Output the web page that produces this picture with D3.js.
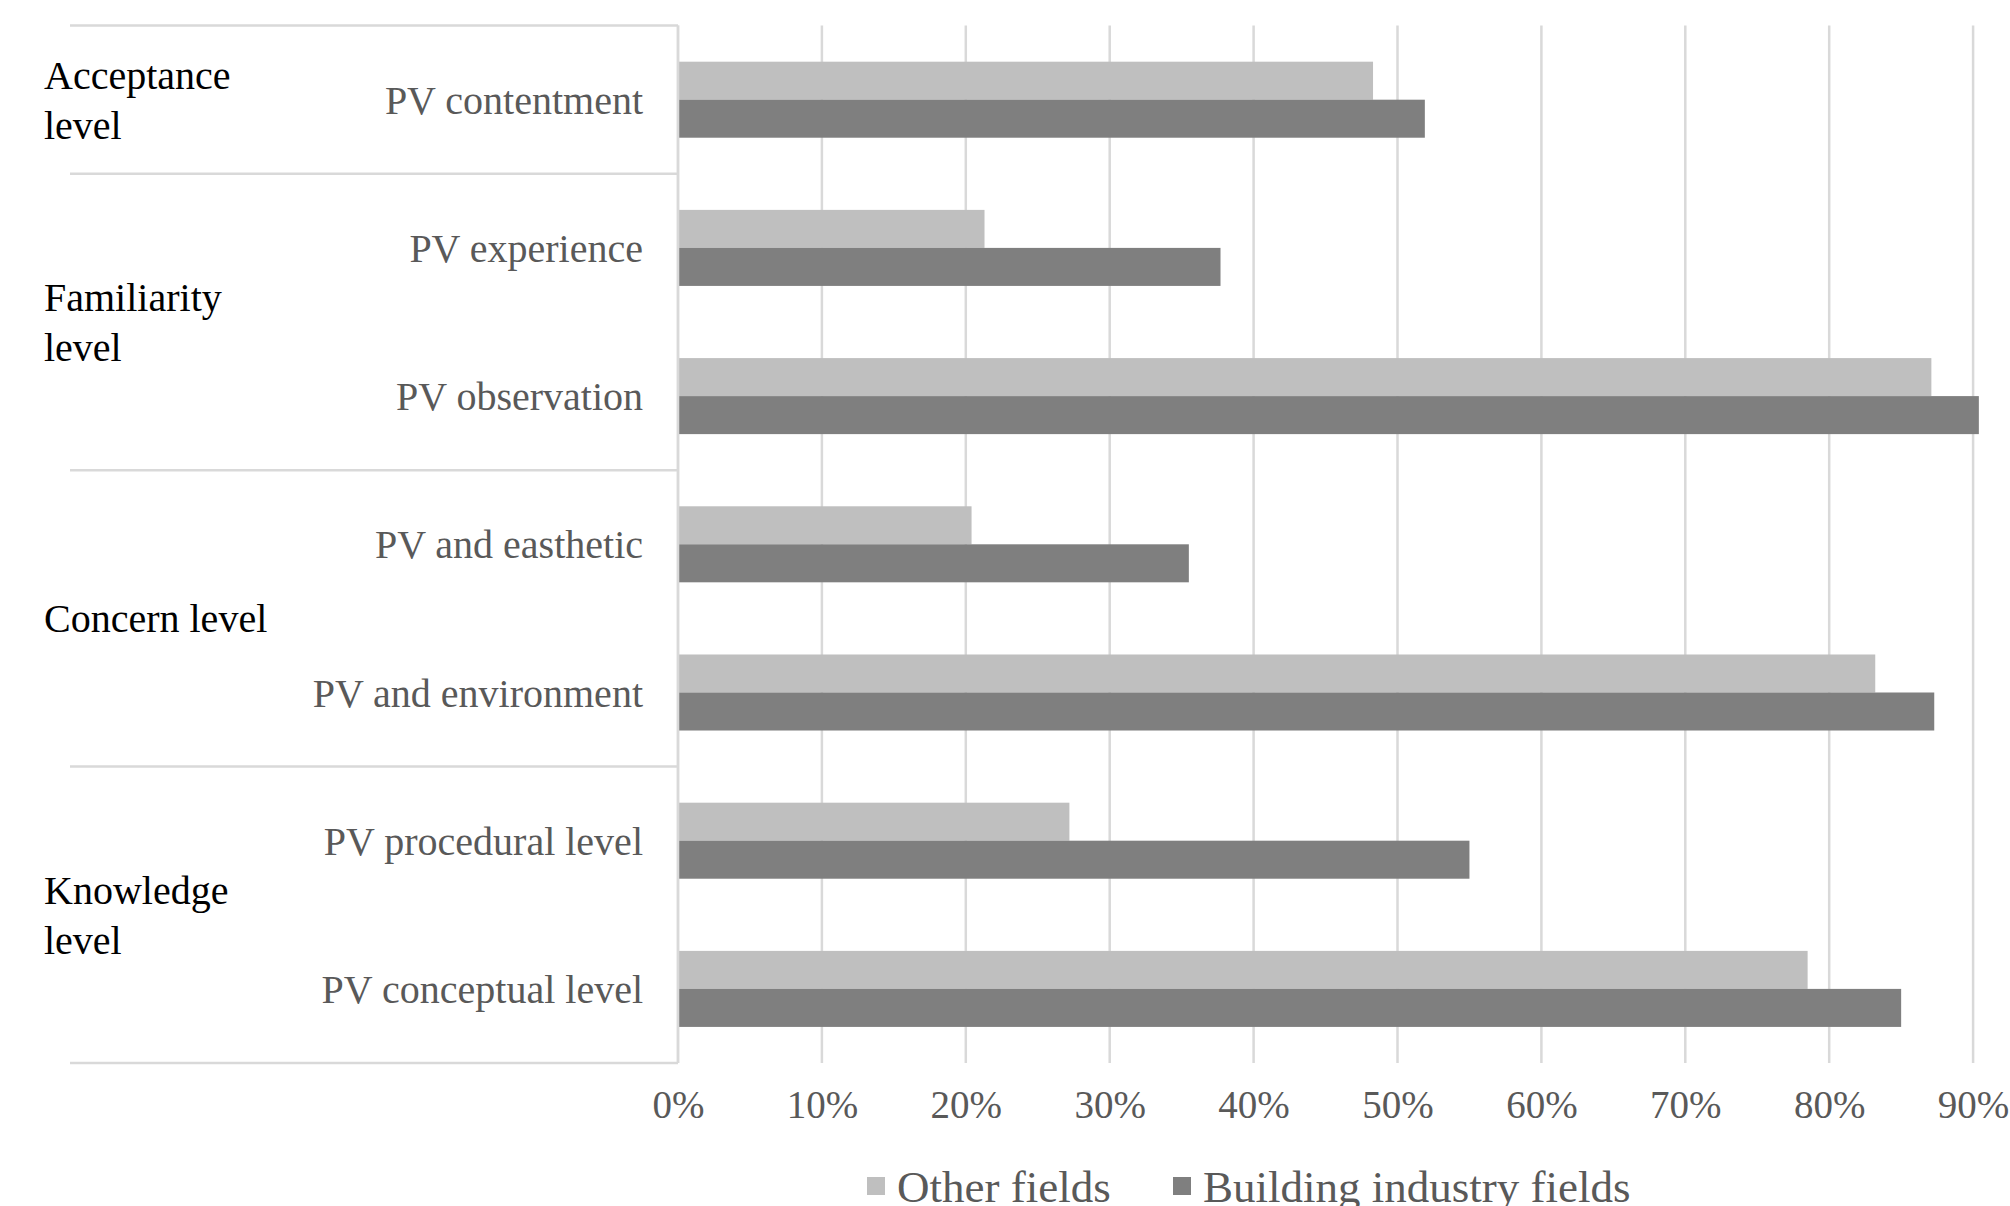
<!DOCTYPE html>
<html>
<head>
<meta charset="utf-8">
<script src="https://cdn.jsdelivr.net/npm/d3@7"></script>
<style>
  body { margin: 0; background: #fff; }
  svg { display: block; font-family: "Liberation Serif", "Times New Roman", serif; }
</style>
</head>
<body>
<svg width="2010" height="1206"></svg>
<script>
// categories, top to bottom
var categories = ["PV contentment", "PV experience", "PV observation", "PV and easthetic",
                  "PV and environment", "PV procedural level", "PV conceptual level"];

// group labels (lines) and how many categories each one spans
var groupLabels = [["Acceptance", "level"], ["Familiarity", "level"], ["Concern level"], ["Knowledge", "level"]];
var groupSizes = [1, 2, 2, 2];

var seriesNames = ["Other fields", "Building industry fields"];
var otherFields = [0.483, 0.213, 0.871, 0.204, 0.832, 0.272, 0.785];
var buildingFields = [0.519, 0.377, 0.904, 0.355, 0.873, 0.550, 0.850];

var tickValues = [0, 0.1, 0.2, 0.3, 0.4, 0.5, 0.6, 0.7, 0.8, 0.9, 1.0];

var colors = ["#bfbfbf", "#7f7f7f"];

function main() {
  var svg = d3.select("svg");

  var plotLeft = 678, plotTop = 25.6, plotBottom = 1063;

  var x = d3.scaleLinear()
    .domain([0, 1])
    .range([plotLeft, plotLeft + 1439]);

  var y = d3.scaleBand()
    .domain(categories)
    .range([plotTop, plotBottom])
    .paddingInner(0.487)
    .paddingOuter(0.2435);

  var ySub = d3.scaleBand()
    .domain(seriesNames)
    .range([0, y.bandwidth()]);

  // gridlines
  svg.append("g")
    .selectAll("line")
    .data(tickValues)
    .enter()
    .append("line")
      .attr("x1", function(d) { return x(d); })
      .attr("x2", function(d) { return x(d); })
      .attr("y1", plotTop)
      .attr("y2", plotBottom)
      .attr("stroke", "#d9d9d9")
      .attr("stroke-width", 2.5);

  // x axis labels
  var xAxis = d3.axisBottom(x)
    .tickValues(tickValues)
    .tickFormat(d3.format(".0%"))
    .tickSize(0)
    .tickPadding(27);

  var gx = svg.append("g")
    .attr("transform", "translate(0," + plotBottom + ")")
    .call(xAxis);
  gx.select(".domain").remove();
  gx.selectAll("text")
    .attr("font-family", "Liberation Serif")
    .attr("font-size", 39)
    .attr("fill", "#595959");

  // bars
  var rows = categories.map(function(c, i) {
    return { cat: c, values: [otherFields[i], buildingFields[i]] };
  });

  var rowG = svg.append("g")
    .selectAll("g")
    .data(rows)
    .enter()
    .append("g")
      .attr("transform", function(d) { return "translate(0," + y(d.cat) + ")"; });

  rowG.selectAll("rect")
    .data(function(d) {
      return d.values.map(function(v, j) { return { name: seriesNames[j], value: v, k: j }; });
    })
    .enter()
    .append("rect")
      .attr("x", x(0))
      .attr("y", function(d) { return ySub(d.name); })
      .attr("width", function(d) { return x(d.value) - x(0); })
      .attr("height", ySub.bandwidth())
      .attr("fill", function(d) { return colors[d.k]; });

  // category labels
  svg.append("g")
    .selectAll("text")
    .data(categories)
    .enter()
    .append("text")
      .attr("x", 643)
      .attr("y", function(d) { return y(d) + y.bandwidth() / 2; })
      .attr("dy", "0.35em")
      .attr("text-anchor", "end")
      .attr("font-size", 40)
      .attr("fill", "#595959")
      .text(function(d) { return d; });

  // group separators and group labels
  var half = (y.step() - y.bandwidth()) / 2;
  var start = 0;
  var bounds = [y(categories[0]) - half];
  var groups = [];
  groupSizes.forEach(function(n, g) {
    var first = categories[start], last = categories[start + n - 1];
    var mid = (y(first) + y(last) + y.bandwidth()) / 2;
    groups.push({ lines: groupLabels[g], mid: mid });
    bounds.push(y(last) + y.bandwidth() + half);
    start += n;
  });

  svg.append("g")
    .selectAll("line")
    .data(bounds)
    .enter()
    .append("line")
      .attr("x1", 70)
      .attr("x2", x(0))
      .attr("y1", function(d) { return d; })
      .attr("y2", function(d) { return d; })
      .attr("stroke", "#d9d9d9")
      .attr("stroke-width", 2.5);

  // axis line
  svg.append("line")
    .attr("x1", x(0)).attr("x2", x(0))
    .attr("y1", plotTop).attr("y2", plotBottom)
    .attr("stroke", "#d9d9d9")
    .attr("stroke-width", 2.5);

  var gl = svg.append("g")
    .selectAll("text")
    .data(groups)
    .enter()
    .append("text")
      .attr("x", 44)
      .attr("y", function(d) { return d.mid - (d.lines.length - 1) * 25; })
      .attr("font-size", 40)
      .attr("fill", "#000");

  gl.selectAll("tspan")
    .data(function(d) { return d.lines; })
    .enter()
    .append("tspan")
      .attr("x", 44)
      .attr("dy", function(d, i) { return i === 0 ? "0.35em" : 50; })
      .text(function(d) { return d; });

  // legend
  var legendX = [867, 1173];
  var legend = svg.append("g")
    .selectAll("g")
    .data(seriesNames)
    .enter()
    .append("g")
      .attr("transform", function(d, i) { return "translate(" + legendX[i] + ",1186)"; });

  legend.append("rect")
    .attr("x", 0)
    .attr("y", -9)
    .attr("width", 18)
    .attr("height", 18)
    .attr("fill", function(d, i) { return colors[i]; });

  legend.append("text")
    .attr("x", 30)
    .attr("dy", "0.35em")
    .attr("font-size", 45)
    .attr("fill", "#595959")
    .text(function(d) { return d; });
}

main();
</script>
</body>
</html>
